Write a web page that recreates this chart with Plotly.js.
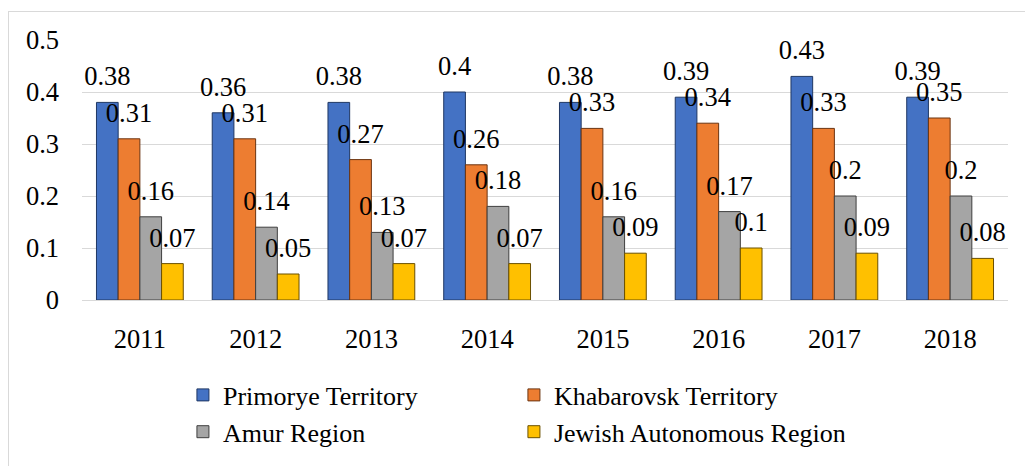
<!DOCTYPE html>
<html>
<head>
<meta charset="utf-8">
<script src="https://cdn.plot.ly/plotly-3.0.1.min.js"></script>
<style>
  body { margin: 0; background: #fff; }
  #frame { position: absolute; left: 8px; top: 11px; width: 1040px; height: 480px; border: 1px solid #d9d9d9; }
  #plot { width: 1017px; height: 455px; }
</style>
</head>
<body>
<div id="frame"><div id="plot"></div></div>
<script>
const years = ['2011', '2012', '2013', '2014', '2015', '2016', '2017', '2018'];
const primorye = [0.38, 0.36, 0.38, 0.40, 0.38, 0.39, 0.43, 0.39];
const khabarovsk = [0.31, 0.31, 0.27, 0.26, 0.33, 0.34, 0.33, 0.35];
const amur = [0.16, 0.14, 0.13, 0.18, 0.16, 0.17, 0.20, 0.20];
const jewish = [0.07, 0.05, 0.07, 0.07, 0.09, 0.10, 0.09, 0.08];

const seriesNames = ['Primorye Territory', 'Khabarovsk Territory', 'Amur Region', 'Jewish Autonomous Region'];
const seriesValues = [primorye, khabarovsk, amur, jewish];
const fills = ['#4472c4', '#ed7d31', '#a5a5a5', '#ffc000'];
const edges = ['#1f3763', '#6b3410', '#3f3f3f', '#6b5000'];

const font = 'Liberation Serif';

// bars
const bars = seriesValues.map((vals, i) => ({
    type: 'bar',
    name: seriesNames[i],
    x: years,
    y: vals,
    offsetgroup: String(i),
    marker: { color: fills[i], line: { color: edges[i], width: 1 } },
    hoverinfo: 'skip'
}));

// value labels, grouped the same way as the bars
const labels = seriesValues.map((vals, i) => ({
    type: 'scatter',
    mode: 'markers+text',
    x: years,
    y: vals,
    offsetgroup: String(i),
    text: vals.map(v => String(v)),
    textposition: 'top center',
    textfont: { family: font, size: 26.5, color: '#000' },
    marker: { size: 15, opacity: 0 },
    cliponaxis: false,
    showlegend: false,
    hoverinfo: 'skip'
}));

const layout = {
    width: 1017,
    height: 455,
    margin: { l: 73, r: 18, t: 28, b: 160.3, pad: 0 },
    paper_bgcolor: '#fff',
    plot_bgcolor: '#fff',
    font: { family: font, size: 26, color: '#000' },
    barmode: 'group',
    bargap: 0.25,
    bargroupgap: 0,
    scattermode: 'group',
    scattergap: 0.25,
    xaxis: {
        type: 'category',
        showline: true,
        linecolor: '#d9d9d9',
        linewidth: 1,
        ticks: '',
        showgrid: false,
        ticklabelstandoff: 15,
        tickfont: { family: font, size: 26.5, color: '#000' }
    },
    yaxis: {
        range: [0, 0.5],
        dtick: 0.1,
        showgrid: true,
        gridcolor: '#d9d9d9',
        gridwidth: 1,
        zeroline: false,
        showline: false,
        ticks: '',
        ticklabelstandoff: 22,
        tickfont: { family: font, size: 26.5, color: '#000' }
    },
    showlegend: true,
    legend: {
        orientation: 'h',
        x: 0.109,
        xanchor: 'left',
        y: -0.275,
        yanchor: 'top',
        entrywidth: 286,
        font: { family: font, size: 26, color: '#000' },
        bgcolor: 'rgba(0,0,0,0)'
    }
};

Plotly.newPlot('plot', bars.concat(labels), layout, { displayModeBar: false, staticPlot: true });
</script>
</body>
</html>
